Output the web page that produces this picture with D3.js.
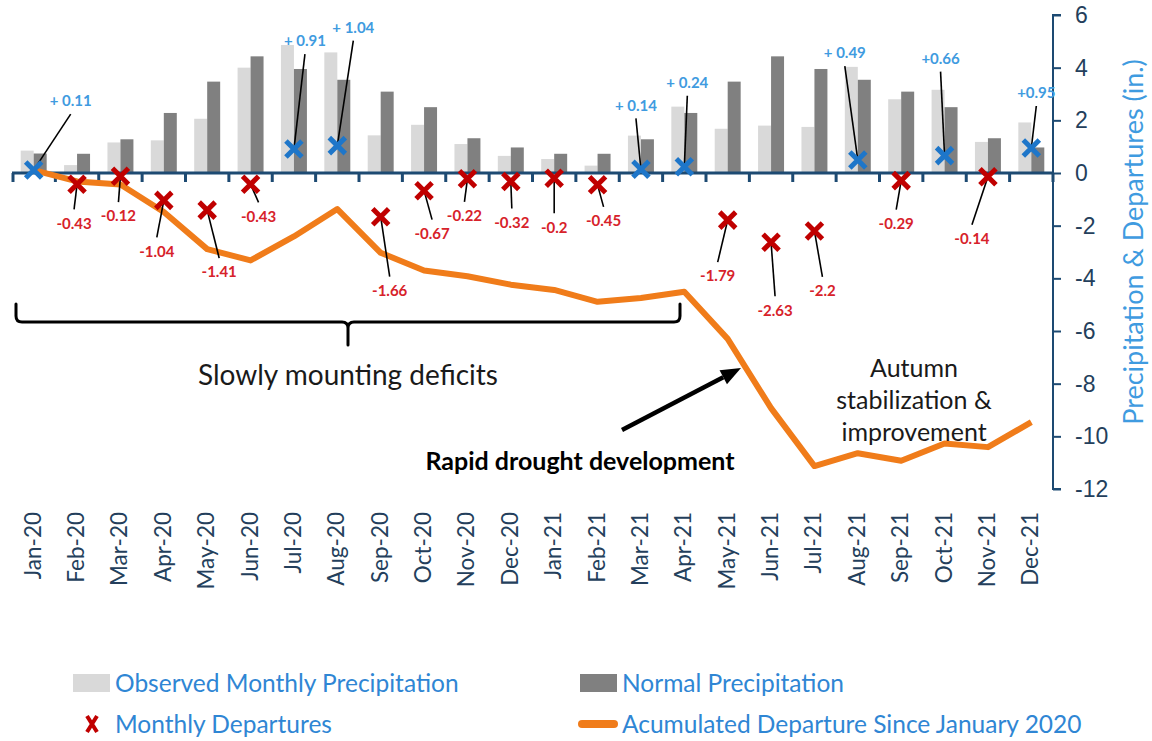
<!DOCTYPE html>
<html>
<head>
<meta charset="utf-8">
<script src="https://cdn.jsdelivr.net/npm/d3@7"></script>
<style>
  body { margin: 0; background: #fff; }
  svg { display: block; font-family: Lato, "Open Sans", sans-serif; }
</style>
</head>
<body>
<div id="chart"></div>
<script>
// monthly values, inches
const months = ["Jan-20", "Feb-20", "Mar-20", "Apr-20", "May-20", "Jun-20", "Jul-20", "Aug-20",
  "Sep-20", "Oct-20", "Nov-20", "Dec-20", "Jan-21", "Feb-21", "Mar-21", "Apr-21", "May-21",
  "Jun-21", "Jul-21", "Aug-21", "Sep-21", "Oct-21", "Nov-21", "Dec-21"];
const observed = [0.85, 0.30, 1.16, 1.24, 2.06, 4.00, 4.86, 4.58, 1.43, 1.83, 1.10, 0.65,
  0.53, 0.28, 1.42, 2.52, 1.68, 1.80, 1.75, 4.03, 2.80, 3.16, 1.18, 1.92];
const normal = [0.74, 0.73, 1.28, 2.28, 3.47, 4.43, 3.95, 3.54, 3.09, 2.50, 1.32, 0.97,
  0.73, 0.73, 1.28, 2.28, 3.47, 4.43, 3.95, 3.54, 3.09, 2.50, 1.32, 0.97];
const departures = [0.11, -0.43, -0.12, -1.04, -1.41, -0.43, 0.91, 1.04, -1.66, -0.67, -0.22, -0.32,
  -0.2, -0.45, 0.14, 0.24, -1.79, -2.63, -2.2, 0.49, -0.29, 0.66, -0.14, 0.95];
const depLabels = ["+ 0.11", "-0.43", "-0.12", "-1.04", "-1.41", "-0.43", "+ 0.91", "+ 1.04",
  "-1.66", "-0.67", "-0.22", "-0.32", "-0.2", "-0.45", "+ 0.14", "+ 0.24", "-1.79", "-2.63",
  "-2.2", "+ 0.49", "-0.29", "+0.66", "-0.14", "+0.95"];
const accumulated = [0.11, -0.32, -0.44, -1.48, -2.89, -3.32, -2.41, -1.37, -3.03, -3.70, -3.92, -4.24,
  -4.44, -4.89, -4.75, -4.51, -6.30, -8.93, -11.13, -10.64, -10.93, -10.27, -10.41, -9.46];
const yTicks = [6, 4, 2, 0, -2, -4, -6, -8, -10, -12];

// where each departure label sits relative to its marker (px)
const labelDx = [37, -3, -2, -7, 12, 8, 11, 16, 9, 8, -3, 1, 0, 6, -5, 3, -10, 4, 8, -13, -5, -4, -16, 5];
const labelDy = [-69, 39, 40, 51, 62, 32, -108, -118, 74, 43, 37, 41, 49, 36, -64, -84, 56, 68, 60, -107, 43, -97, 62, -55];

const width = 1152, height = 741;
const navy = "#1d4a72", tickText = "#243f5c";
const redX = "#c00000", redText = "#d7222a";
const blueX = "#1e76c9", blueText = "#3f9be0";
const orange = "#f07c1a";

const svg = d3.select("#chart").append("svg")
  .attr("width", width).attr("height", height);

svg.append("rect").attr("width", width).attr("height", height).attr("fill", "#fff");

const x = d3.scaleBand().domain(months).range([12, 1053]).padding(0);
const xSub = d3.scaleBand().domain(["obs", "norm"]).range([0, x.bandwidth()]).paddingOuter(0.67);
const y = d3.scaleLinear().domain([-12, 6]).range([489, 15]);
const cx = m => x(m) + x.bandwidth() / 2;

// bars
const groups = svg.append("g").selectAll("g").data(months).enter().append("g")
  .attr("transform", d => `translate(${x(d)},0)`);
groups.append("rect")
  .attr("x", xSub("obs")).attr("width", xSub.bandwidth())
  .attr("y", (d, i) => y(observed[i])).attr("height", (d, i) => y(0) - y(observed[i]))
  .attr("fill", "#d9d9d9");
groups.append("rect")
  .attr("x", xSub("norm")).attr("width", xSub.bandwidth())
  .attr("y", (d, i) => y(normal[i])).attr("height", (d, i) => y(0) - y(normal[i]))
  .attr("fill", "#808080");

// right axis
const yAxis = svg.append("g")
  .attr("transform", `translate(${x.range()[1]},0)`)
  .call(d3.axisRight(y).tickValues(yTicks).tickSize(8).tickPadding(14).tickFormat(d3.format("d")));
yAxis.select(".domain").attr("stroke", navy).attr("stroke-width", 2)
  .attr("d", `M8,${y(6)}H0V${y(-12)}H8`);
yAxis.selectAll(".tick line").attr("stroke", navy).attr("stroke-width", 2);
yAxis.selectAll(".tick text").attr("fill", tickText).style("font-size", "23px")
  .text(d => d < 0 ? "-" + Math.abs(d) : d);

// zero line with category ticks
svg.append("line")
  .attr("x1", x.range()[0]).attr("x2", x.range()[1])
  .attr("y1", y(0)).attr("y2", y(0))
  .attr("stroke", navy).attr("stroke-width", 3);
svg.append("g").selectAll("line").data(d3.range(months.length + 1)).enter().append("line")
  .attr("x1", k => x.range()[0] + k * x.step() + (k === 0 ? 1 : 0))
  .attr("x2", k => x.range()[0] + k * x.step() + (k === 0 ? 1 : 0))
  .attr("y1", y(0)).attr("y2", y(0) + 9)
  .attr("stroke", navy).attr("stroke-width", 3);

// month labels at the bottom
svg.append("g").selectAll("text").data(months).enter().append("text")
  .attr("transform", d => `translate(${cx(d) + 7},512) rotate(-90)`)
  .attr("text-anchor", "end")
  .attr("fill", tickText)
  .style("font-size", "22.5px")
  .text(d => d);

// y title
svg.append("text")
  .attr("transform", "translate(1143,242) rotate(-90)")
  .attr("text-anchor", "middle")
  .attr("fill", blueText)
  .style("font-size", "27px")
  .text("Precipitation & Departures (in.)");

// accumulated departure
const line = d3.line().x((d, i) => cx(months[i])).y(d => y(d));
svg.append("path")
  .datum(accumulated)
  .attr("d", line)
  .attr("fill", "none")
  .attr("stroke", orange)
  .attr("stroke-width", 6)
  .attr("stroke-linejoin", "round");

// leader lines
const lead = svg.append("g");
departures.forEach((v, i) => {
  const mx = cx(months[i]), my = y(v);
  const lx = mx + labelDx[i], ly = my + labelDy[i];
  lead.append("line")
    .attr("x1", mx).attr("y1", my)
    .attr("x2", lx).attr("y2", labelDy[i] < 0 ? ly + 13 : ly - 14)
    .attr("stroke", "#000").attr("stroke-width", 1.6);
});

// departure markers
const xMark = s => `M${-s},${-s}L${s},${s}M${-s},${s}L${s},${-s}`;
svg.append("g").selectAll("path").data(departures).enter().append("path")
  .attr("transform", (d, i) => `translate(${cx(months[i])},${y(d)})`)
  .attr("d", xMark(8))
  .attr("stroke", d => d >= 0 ? blueX : redX)
  .attr("stroke-width", 5)
  .attr("fill", "none");

svg.append("g").selectAll("text").data(departures).enter().append("text")
  .attr("x", (d, i) => cx(months[i]) + labelDx[i])
  .attr("y", (d, i) => y(d) + labelDy[i])
  .attr("dy", "0.35em")
  .attr("text-anchor", "middle")
  .attr("fill", d => d >= 0 ? blueText : redText)
  .style("font-size", "15px")
  .style("font-weight", "bold")
  .text((d, i) => depLabels[i]);

// annotations
const ann = svg.append("g").attr("stroke", "#000").attr("fill", "none")
  .attr("stroke-width", 3).attr("stroke-linecap", "round");
const bl = 16, br = 680, bTop = 304, bMid = 322, bTip = 345;
const bc = (bl + br) / 2;
ann.append("path").attr("d",
  `M${bl},${bTop}V${bMid - 6}Q${bl},${bMid} ${bl + 6},${bMid}H${bc - 6}Q${bc},${bMid} ${bc},${bMid + 6}V${bTip}` +
  `M${bc},${bMid + 6}Q${bc},${bMid} ${bc + 6},${bMid}H${br - 6}Q${br},${bMid} ${br},${bMid - 6}V${bTop}`);

svg.append("text")
  .attr("x", bc).attr("y", 375).attr("dy", "0.35em")
  .attr("text-anchor", "middle").attr("fill", "#1a1a1a")
  .style("font-size", "28px")
  .text("Slowly mounting deficits");

// arrow
const ax0 = 622, ay0 = 430, ax1 = 741, ay1 = 368;
const ang = Math.atan2(ay1 - ay0, ax1 - ax0);
const hl = 20, hw = 8;
svg.append("line")
  .attr("x1", ax0).attr("y1", ay0)
  .attr("x2", ax1 - hl * Math.cos(ang)).attr("y2", ay1 - hl * Math.sin(ang))
  .attr("stroke", "#000").attr("stroke-width", 4.5);
svg.append("path")
  .attr("d", `M${ax1},${ay1}` +
    `L${ax1 - hl * Math.cos(ang) + hw * Math.sin(ang)},${ay1 - hl * Math.sin(ang) - hw * Math.cos(ang)}` +
    `L${ax1 - hl * Math.cos(ang) - hw * Math.sin(ang)},${ay1 - hl * Math.sin(ang) + hw * Math.cos(ang)}Z`)
  .attr("fill", "#000");

svg.append("text")
  .attr("x", 580).attr("y", 461).attr("dy", "0.35em")
  .attr("text-anchor", "middle").attr("fill", "#000")
  .style("font-size", "25px").style("font-weight", "bold")
  .text("Rapid drought development");

svg.append("text")
  .attr("text-anchor", "middle").attr("fill", "#1a1a1a")
  .style("font-size", "25px")
  .selectAll("tspan").data(["Autumn", "stabilization &", "improvement"]).enter().append("tspan")
  .attr("x", 914).attr("y", (d, i) => 368 + i * 32).attr("dy", "0.35em")
  .text(d => d);

// legend
const legendColor = "#2f86d4";
const leg = svg.append("g").style("font-size", "24.5px");
leg.append("rect").attr("x", 73).attr("y", 674).attr("width", 37).attr("height", 18).attr("fill", "#d9d9d9");
leg.append("text").attr("x", 115).attr("y", 683).attr("dy", "0.35em").attr("fill", legendColor)
  .text("Observed Monthly Precipitation");
leg.append("rect").attr("x", 580).attr("y", 674).attr("width", 37).attr("height", 18).attr("fill", "#808080");
leg.append("text").attr("x", 622).attr("y", 683).attr("dy", "0.35em").attr("fill", legendColor)
  .text("Normal Precipitation");
leg.append("path").attr("transform", "translate(92,724)")
  .attr("d", "M-5,-8L5,8M-5,8L5,-8")
  .attr("stroke", redX).attr("stroke-width", 4).attr("fill", "none");
leg.append("text").attr("x", 115).attr("y", 724).attr("dy", "0.35em").attr("fill", legendColor)
  .text("Monthly Departures");
leg.append("line").attr("x1", 582).attr("x2", 614).attr("y1", 724).attr("y2", 724)
  .attr("stroke", orange).attr("stroke-width", 8).attr("stroke-linecap", "round");
leg.append("text").attr("x", 622).attr("y", 724).attr("dy", "0.35em").attr("fill", legendColor)
  .text("Acumulated Departure Since January 2020");
</script>
</body>
</html>
